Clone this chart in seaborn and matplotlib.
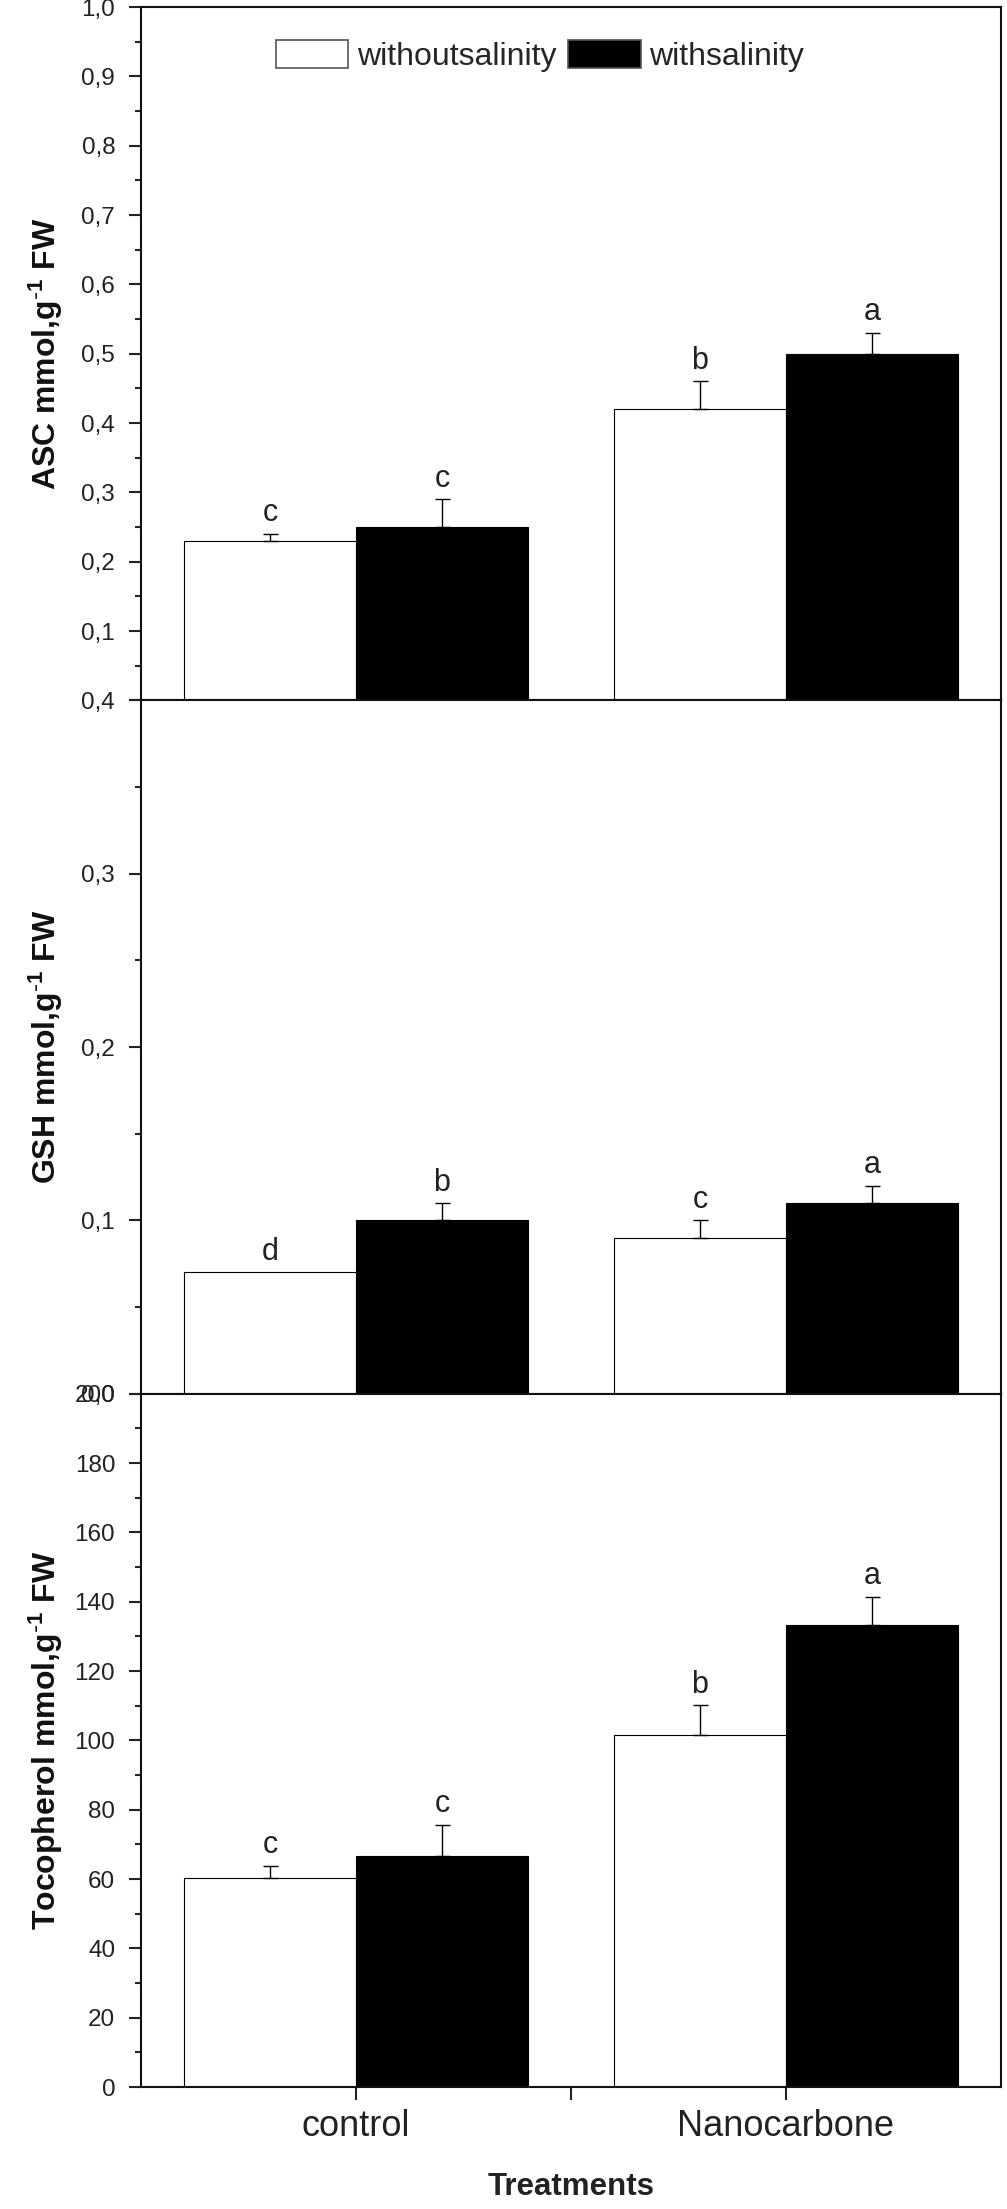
import numpy as np
import pandas as pd
import matplotlib
matplotlib.use("Agg")
import matplotlib.pyplot as plt
import seaborn as sns
from matplotlib.ticker import MultipleLocator, FuncFormatter, FixedLocator

# data
treatments = ["control", "Nanocarbone"]
groups = ["withoutsalinity", "withsalinity"]

asc_without = [0.23, 0.42]
asc_with = [0.25, 0.50]
asc_err_without = [0.01, 0.04]
asc_err_with = [0.04, 0.03]
asc_letters_without = ["c", "b"]
asc_letters_with = ["c", "a"]

gsh_without = [0.07, 0.09]
gsh_with = [0.10, 0.11]
gsh_err_without = [0.0, 0.01]
gsh_err_with = [0.01, 0.01]
gsh_letters_without = ["d", "c"]
gsh_letters_with = ["b", "a"]

toc_without = [60.2, 101.7]
toc_with = [66.6, 133.4]
toc_err_without = [3.7, 8.4]
toc_err_with = [9.1, 8.0]
toc_letters_without = ["c", "b"]
toc_letters_with = ["c", "a"]

sns.set_theme(style="ticks")
plt.rcParams["font.family"] = ["Liberation Sans", "DejaVu Sans"]
plt.rcParams["mathtext.default"] = "regular"
plt.rcParams["axes.linewidth"] = 1.5

sup = r"$^{\text{-}1}$"
panels = [
    ("ASC mmol,g" + sup + " FW", asc_without, asc_with, asc_err_without, asc_err_with,
     asc_letters_without, asc_letters_with, (0, 1.0), 0.1, 0.05),
    ("GSH mmol,g" + sup + " FW", gsh_without, gsh_with, gsh_err_without, gsh_err_with,
     gsh_letters_without, gsh_letters_with, (0, 0.4), 0.1, 0.05),
    ("Tocopherol mmol,g" + sup + " FW", toc_without, toc_with, toc_err_without, toc_err_with,
     toc_letters_without, toc_letters_with, (0, 200), 20, 10),
]

fig, axes = plt.subplots(3, 1, figsize=(10.07, 22.09), sharex=True)
fig.subplots_adjust(left=0.14, right=0.994, top=0.9968, bottom=0.0552, hspace=0)

for i, (label, v_wo, v_w, e_wo, e_w, l_wo, l_w, ylim, major, minor) in enumerate(panels):
    ax = axes[i]
    df = pd.DataFrame({
        "Treatment": treatments * 2,
        "Group": [groups[0]] * 2 + [groups[1]] * 2,
        "value": v_wo + v_w,
    })
    sns.barplot(data=df, x="Treatment", y="value", hue="Group",
                palette=["white", "black"], saturation=1, edgecolor="black",
                linewidth=0.8, errorbar=None, width=0.8, ax=ax, legend=(i == 0))

    for cont, errs, letters in zip(ax.containers, [e_wo, e_w], [l_wo, l_w]):
        for bar, e, let in zip(cont, errs, letters):
            x = bar.get_x() + bar.get_width() / 2
            h = bar.get_height()
            if e > 0:
                ax.errorbar(x, h, yerr=[[0], [e]], fmt="none", ecolor="black",
                            elinewidth=1, capsize=5.4, capthick=1, zorder=5)
            ax.annotate(let, (x, h + e), xytext=(0, 4), textcoords="offset points",
                        ha="center", va="bottom", fontsize=22, color="#222222")

    ax.set_ylim(*ylim)
    ax.yaxis.set_major_locator(MultipleLocator(major))
    ax.yaxis.set_minor_locator(MultipleLocator(minor))
    if i < 2:
        hide_zero = (i == 0)
        ax.yaxis.set_major_formatter(FuncFormatter(
            lambda v, p, hz=hide_zero: "" if (hz and abs(v) < 1e-9) else f"{v:.1f}".replace(".", ",")))
        ax.tick_params(axis="x", which="both", bottom=False, labelbottom=False)
    else:
        ax.yaxis.set_major_formatter(FuncFormatter(lambda v, p: f"{v:.0f}"))

    ax.tick_params(axis="y", which="major", direction="out", length=8.6, width=1.5,
                   labelsize=17.5, pad=10, colors="#222222")
    ax.tick_params(axis="y", which="minor", direction="out", length=4.3, width=1.5)
    for s in ax.spines.values():
        s.set_visible(True)
        s.set_linewidth(1.5)
        s.set_color("#111111")

    ax.set_ylabel(label, fontsize=23, fontweight="bold", color="#111111")
    ax.yaxis.set_label_coords(-0.088, 0.5)
    ax.set_xlabel("")

# legend in the top panel
sns.move_legend(axes[0], "center", bbox_to_anchor=(0.464, 0.9295), ncol=2,
                frameon=False, title=None, fontsize=23, handlelength=2.27,
                handleheight=0.97, handletextpad=0.27, columnspacing=0.36)
for h in axes[0].get_legend().legend_handles:
    h.set_edgecolor("#555555")
    h.set_linewidth(1.2)

ax = axes[2]
ax.set_xlim(-0.5, 1.5)
ax.xaxis.set_minor_locator(FixedLocator([0.5]))
ax.tick_params(axis="x", which="both", direction="out", length=9, width=1.5,
               labelsize=26, pad=7, colors="#222222")
ax.set_xlabel("Treatments", fontsize=22.5, fontweight="bold", labelpad=20, color="#222222")

fig.savefig("out.png", dpi=100)
